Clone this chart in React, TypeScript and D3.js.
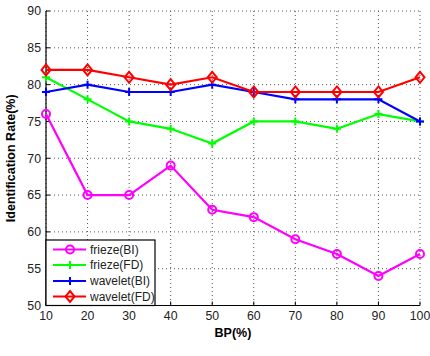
import React from "react";
import * as d3 from "d3";

const bp = [10, 20, 30, 40, 50, 60, 70, 80, 90, 100];
const friezeBI = [76, 65, 65, 69, 63, 62, 59, 57, 54, 57];
const friezeFD = [81, 78, 75, 74, 72, 75, 75, 74, 76, 75];
const waveletBI = [79, 80, 79, 79, 80, 79, 78, 78, 78, 75];
const waveletFD = [82, 82, 81, 80, 81, 79, 79, 79, 79, 81];
const yTicks = [50, 55, 60, 65, 70, 75, 80, 85, 90];
const seriesNames = ["frieze(BI)", "frieze(FD)", "wavelet(BI)", "wavelet(FD)"];
const seriesColors = ["#ff00ff", "#00ff00", "#0000ff", "#ff0000"];
const seriesMarkers = ["circle", "plus", "plus", "diamond"];

const W = 430, H = 356;
const L = 46, R = 420, T = 11, B = 305.5;

function Marker({ type, x, y, color }: { type: string; x: number; y: number; color: string }) {
  if (type === "circle") return <circle cx={x} cy={y} r={4} fill="none" stroke={color} strokeWidth={2} />;
  if (type === "plus")
    return <path d={`M${x - 4},${y}H${x + 4}M${x},${y - 4}V${y + 4}`} stroke={color} strokeWidth={2} />;
  return <path d={`M${x},${y - 5.5}L${x + 4.5},${y}L${x},${y + 5.5}L${x - 4.5},${y}Z`} fill="none" stroke={color} strokeWidth={2} />;
}

export default function App() {
  const x = d3.scaleLinear().domain([10, 100]).range([L, R]);
  const y = d3.scaleLinear().domain([50, 90]).range([B, T]);
  const data = [friezeBI, friezeFD, waveletBI, waveletFD];
  const line = d3.line<number>().x((_, i) => x(bp[i])).y((d) => y(d));
  const font = "Liberation Sans, Arial, sans-serif";
  const legY = [249.5, 265, 281, 296.5];
  return (
    <svg width={W} height={H} style={{ position: "absolute", left: 0, top: 0 }} fontFamily={font}>
      <rect width={W} height={H} fill="#fff" />
      {bp.map((v) => (
        <line key={"gx" + v} x1={x(v)} x2={x(v)} y1={T} y2={B} stroke="#555" strokeWidth={1} strokeDasharray="1,3" />
      ))}
      {yTicks.map((v) => (
        <line key={"gy" + v} x1={L} x2={R} y1={y(v)} y2={y(v)} stroke="#555" strokeWidth={1} strokeDasharray="1,3" />
      ))}
      <line x1={L} x2={L} y1={T} y2={B} stroke="#000" strokeWidth={1.2} />
      <line x1={L} x2={R} y1={B} y2={B} stroke="#000" strokeWidth={1.2} />
      {yTicks.map((v) => (
        <g key={"ty" + v}>
          <line x1={L} x2={L + 4} y1={y(v)} y2={y(v)} stroke="#000" />
          <text x={L - 5} y={y(v)} dy="0.35em" textAnchor="end" fontSize={12.3} fill="#222">{v}</text>
        </g>
      ))}
      {bp.map((v) => (
        <g key={"tx" + v}>
          <line x1={x(v)} x2={x(v)} y1={B} y2={B - 4} stroke="#000" />
          <text x={x(v)} y={B + 14.5} textAnchor="middle" fontSize={12.3} fill="#222">{v}</text>
        </g>
      ))}
      <text x={(L + R) / 2} y={337} textAnchor="middle" fontSize={12.5} fontWeight="bold">BP(%)</text>
      <text transform={`translate(15,${(T + B) / 2}) rotate(-90)`} textAnchor="middle" fontSize={12.5} fontWeight="bold">Identification Rate(%)</text>
      {data.map((s, k) => (
        <g key={"s" + k}>
          <path d={line(s) || ""} fill="none" stroke={seriesColors[k]} strokeWidth={2.2} />
          {s.map((v, i) => (
            <Marker key={i} type={seriesMarkers[k]} x={x(bp[i])} y={y(v)} color={seriesColors[k]} />
          ))}
        </g>
      ))}
      <rect x={L} y={240} width={109} height={65.5} fill="#fff" stroke="#000" strokeWidth={1.2} />
      {seriesNames.map((n, k) => (
        <g key={"l" + k}>
          <line x1={53} x2={86} y1={legY[k]} y2={legY[k]} stroke={seriesColors[k]} strokeWidth={2.2} />
          <Marker type={seriesMarkers[k]} x={70} y={legY[k]} color={seriesColors[k]} />
          <text x={90} y={legY[k]} dy="0.35em" fontSize={12} fill="#222">{n}</text>
        </g>
      ))}
    </svg>
  );
}
